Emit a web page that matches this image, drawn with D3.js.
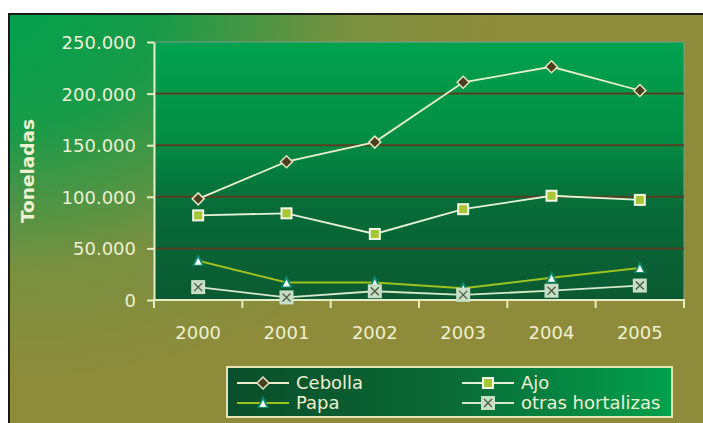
<!DOCTYPE html>
<meta charset="utf-8">
<style>
body { margin: 0; background: #fff; }
svg { display: block; }
.axis text { font: 18px "DejaVu Sans", sans-serif; fill: #eef0d2; }
.axis line, .axis path { stroke: #e6ecc4; }
.legend text { font: 18px "DejaVu Sans", sans-serif; fill: #eef0d2; }
</style>
<body>
<div id="chart"></div>
<script src="https://cdn.jsdelivr.net/npm/d3@7"></script>
<script>
// data
var years = ["2000", "2001", "2002", "2003", "2004", "2005"];
var cebolla = [98000, 134000, 153000, 211000, 226000, 203000];
var ajo = [82000, 84000, 64000, 88000, 101000, 97000];
var papa = [38000, 17000, 17000, 11500, 21500, 31000];
var otras = [12500, 2500, 8500, 5000, 9000, 14000];
var seriesNames = ["Cebolla", "Ajo", "Papa", "otras hortalizas"];
var yTicks = [0, 50000, 100000, 150000, 200000, 250000];

var W = 703, H = 423;
var margin = {top: 42, right: 19, bottom: 123, left: 154};
var width = W - margin.left - margin.right,
    height = H - margin.top - margin.bottom;

var svg = d3.select("#chart").append("svg")
    .attr("width", W)
    .attr("height", H);

var defs = svg.append("defs");

var bgGrad = defs.append("radialGradient")
    .attr("id", "bg")
    .attr("gradientUnits", "userSpaceOnUse")
    .attr("cx", 9).attr("cy", 14).attr("r", 500)
    .attr("gradientTransform", "translate(9,14) scale(1,0.75) translate(-9,-14)");
bgGrad.append("stop").attr("offset", "0").attr("stop-color", "#03a04c");
bgGrad.append("stop").attr("offset", "0.3").attr("stop-color", "#189b49");
bgGrad.append("stop").attr("offset", "0.68").attr("stop-color", "#7a9040");
bgGrad.append("stop").attr("offset", "1").attr("stop-color", "#8e8c3a");

var plotGrad = defs.append("linearGradient")
    .attr("id", "plotbg").attr("x1", 0).attr("y1", 0).attr("x2", 0).attr("y2", 1);
plotGrad.append("stop").attr("offset", "0").attr("stop-color", "#01a24f");
plotGrad.append("stop").attr("offset", "0.35").attr("stop-color", "#038f45");
plotGrad.append("stop").attr("offset", "0.65").attr("stop-color", "#076a38");
plotGrad.append("stop").attr("offset", "1").attr("stop-color", "#0b5a31");

var legGrad = defs.append("linearGradient")
    .attr("id", "legbg").attr("x1", 0).attr("y1", 0).attr("x2", 1).attr("y2", 0);
legGrad.append("stop").attr("offset", "0").attr("stop-color", "#0a4d2a");
legGrad.append("stop").attr("offset", "0.5").attr("stop-color", "#0a6a36");
legGrad.append("stop").attr("offset", "1").attr("stop-color", "#02a04d");

// outer frame
svg.append("rect")
    .attr("x", 9).attr("y", 14)
    .attr("width", W).attr("height", H)
    .attr("fill", "url(#bg)")
    .attr("stroke", "#1a1a1a")
    .attr("stroke-width", 2);

var g = svg.append("g")
    .attr("transform", "translate(" + margin.left + "," + margin.top + ")");

var x = d3.scaleBand().domain(years).range([0, width]).padding(0);
var y = d3.scaleLinear().domain([0, 250000]).range([height, 0]);

function cx(d, i) { return x(years[i]) + x.bandwidth() / 2; }

g.append("rect")
    .attr("width", width).attr("height", height)
    .attr("fill", "url(#plotbg)")
    .attr("stroke", "#7f9c8c")
    .attr("stroke-width", 1);

// gridlines
g.selectAll(".grid")
    .data(yTicks.filter(function(d) { return d > 0 && d < 250000; }))
  .enter().append("line")
    .attr("class", "grid")
    .attr("x1", 0).attr("x2", width)
    .attr("y1", function(d) { return y(d); })
    .attr("y2", function(d) { return y(d); })
    .attr("stroke", "#5a3f1e")
    .attr("stroke-width", 2);

var loc = d3.formatLocale({decimal: ",", thousands: ".", grouping: [3], currency: ["", ""]});
var fmt = loc.format(",");

var yAxis = g.append("g")
    .attr("class", "axis")
    .call(d3.axisLeft(y).tickValues(yTicks).tickFormat(fmt).tickSize(7).tickPadding(11).tickSizeOuter(0));
yAxis.select(".domain").attr("stroke-width", 2);
yAxis.selectAll("line").attr("stroke-width", 2);
yAxis.selectAll("text").attr("dy", "0.36em");

var xAxis = g.append("g")
    .attr("class", "axis")
    .attr("transform", "translate(0," + height + ")");
xAxis.append("line")
    .attr("x1", -1).attr("x2", width + 1)
    .attr("stroke-width", 2);
xAxis.selectAll(".tk")
    .data(years.concat(["end"]))
  .enter().append("line")
    .attr("class", "tk")
    .attr("x1", function(d) { return d === "end" ? width : x(d); })
    .attr("x2", function(d) { return d === "end" ? width : x(d); })
    .attr("y1", 0).attr("y2", 8)
    .attr("stroke-width", 2);
xAxis.selectAll("text")
    .data(years)
  .enter().append("text")
    .attr("x", function(d) { return x(d) + x.bandwidth() / 2; })
    .attr("y", 39)
    .attr("text-anchor", "middle")
    .text(function(d) { return d; });

// axis title
svg.append("text")
    .attr("transform", "translate(34,171) rotate(-90)")
    .attr("text-anchor", "middle")
    .style("font", "bold 18.5px 'DejaVu Sans', sans-serif")
    .style("fill", "#eef0d2")
    .text("Toneladas");

var line = d3.line()
    .x(cx)
    .y(function(d) { return y(d); });

// marker drawers
function diamond(sel) {
  sel.append("path")
    .attr("d", "M0,-6L6,0L0,6L-6,0Z")
    .attr("fill", "#4a3f1f")
    .attr("stroke", "#e8e4c0")
    .attr("stroke-width", 1.5);
}
function square(sel) {
  sel.append("rect")
    .attr("x", -5).attr("y", -5).attr("width", 10).attr("height", 10)
    .attr("fill", "#a6c634")
    .attr("stroke", "#f2f6e4")
    .attr("stroke-width", 2);
}
function triangle(sel) {
  sel.append("path")
    .attr("d", "M0,-7L6,5L-6,5Z")
    .attr("fill", "#0a8a6e");
  sel.append("path")
    .attr("d", "M0,-3L3.5,4L-3.5,4Z")
    .attr("fill", "#ffffff");
}
function xbox(sel) {
  sel.append("rect")
    .attr("x", -7).attr("y", -7).attr("width", 14).attr("height", 14)
    .attr("fill", "#c6dfc6");
  sel.append("path")
    .attr("d", "M-4,-4L4,4M4,-4L-4,4")
    .attr("stroke", "#4d5a40")
    .attr("stroke-width", 1.3);
}

var series = [
  {name: "Cebolla", values: cebolla, color: "#eaf0cc", width: 1.8, marker: diamond},
  {name: "Ajo", values: ajo, color: "#e6f2d8", width: 1.8, marker: square},
  {name: "Papa", values: papa, color: "#9ec21e", width: 2, marker: triangle},
  {name: "otras hortalizas", values: otras, color: "#d8e8cc", width: 1.8, marker: xbox}
];

// draw lines, lowest first so markers sit on top
[3, 2, 1, 0].forEach(function(k) {
  var s = series[k];
  g.append("path")
    .datum(s.values)
    .attr("fill", "none")
    .attr("stroke", s.color)
    .attr("stroke-width", s.width)
    .attr("d", line);
});
[2, 3, 1, 0].forEach(function(k) {
  var s = series[k];
  g.selectAll(".m" + k)
    .data(s.values)
  .enter().append("g")
    .attr("class", "m" + k)
    .attr("transform", function(d, i) { return "translate(" + cx(d, i) + "," + y(d) + ")"; })
    .each(function() { s.marker(d3.select(this)); });
});

// legend
var legend = svg.append("g").attr("class", "legend");
legend.append("rect")
    .attr("x", 227).attr("y", 367)
    .attr("width", 445).attr("height", 50)
    .attr("fill", "url(#legbg)")
    .attr("stroke", "#e6e6b4")
    .attr("stroke-width", 2);

var legPos = [[237, 383], [462, 383], [237, 403], [462, 403]];
var item = legend.selectAll(".item")
    .data(series)
  .enter().append("g")
    .attr("class", "item")
    .attr("transform", function(d, i) { return "translate(" + legPos[i][0] + "," + legPos[i][1] + ")"; });
item.append("line")
    .attr("x1", 0).attr("x2", 52)
    .attr("stroke", function(d) { return d.color; })
    .attr("stroke-width", function(d) { return d.width; });
item.append("g")
    .attr("transform", "translate(26,0)")
    .each(function(d) { d.marker(d3.select(this)); });
item.append("text")
    .attr("x", 59)
    .attr("dy", "0.36em")
    .text(function(d) { return d.name; });
</script>
</body>
